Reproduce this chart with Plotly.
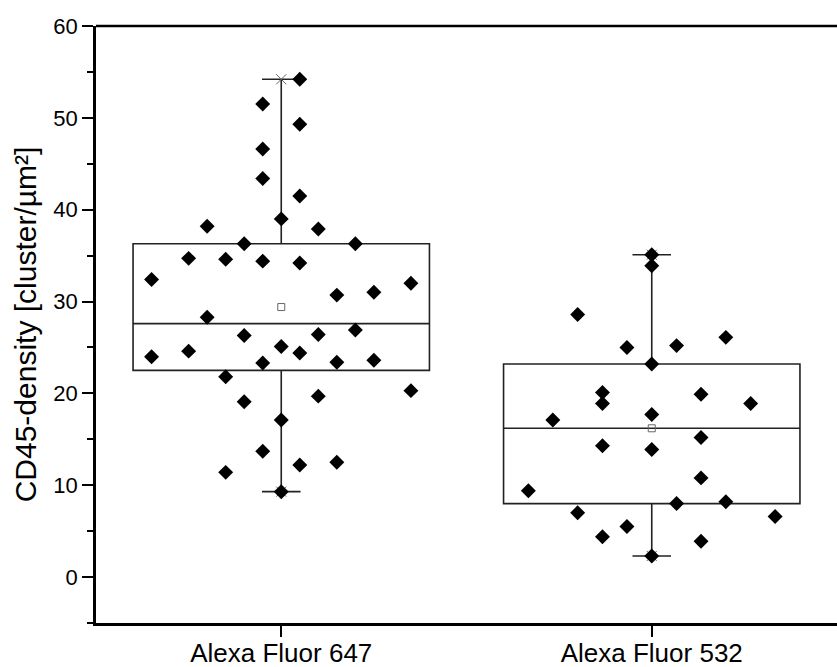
import plotly.graph_objects as go

categories = ["Alexa Fluor 647", "Alexa Fluor 532"]

# Box statistics
q1_vals = [22.5, 8.0]
median_vals = [27.6, 16.2]
q3_vals = [36.3, 23.2]
lower_whisker = [9.3, 2.3]
upper_whisker = [54.2, 35.1]
mean_vals = [29.4, 16.2]

# Individual points (values) and horizontal spread offsets (category units)
values_647 = [54.2, 51.5, 49.3, 46.6, 43.4, 41.5, 39.0, 38.2, 37.9, 36.3,
              36.3, 34.7, 34.6, 34.4, 34.2, 32.4, 32.0, 31.0, 30.7, 28.3,
              26.3, 26.4, 26.9, 24.0, 24.6, 25.1, 24.4, 23.3, 23.4, 23.6,
              21.8, 20.3, 19.1, 19.7, 17.1, 13.7, 12.2, 12.5, 11.4, 9.3]
jitter_647 = [0.05, -0.05, 0.05, -0.05, -0.05, 0.05, 0.0, -0.2, 0.1, -0.1,
              0.2, -0.25, -0.15, -0.05, 0.05, -0.35, 0.35, 0.25, 0.15, -0.2,
              -0.1, 0.1, 0.2, -0.35, -0.25, 0.0, 0.05, -0.05, 0.15, 0.25,
              -0.15, 0.35, -0.1, 0.1, 0.0, -0.05, 0.05, 0.15, -0.15, 0.0]

values_532 = [35.1, 33.9, 28.6, 25.0, 25.2, 26.1, 23.2, 20.1, 18.9, 19.9,
              18.9, 17.1, 17.7, 15.2, 14.3, 13.9, 10.8, 9.4, 8.0, 8.2,
              7.0, 6.6, 5.5, 4.4, 3.9, 2.3]
jitter_532 = [0.0, 0.0, -0.2, -0.067, 0.067, 0.2, 0.0, -0.133, -0.133, 0.133,
              0.267, -0.267, 0.0, 0.133, -0.133, 0.0, 0.133, -0.333, 0.067, 0.2,
              -0.2, 0.333, -0.067, -0.133, 0.133, 0.0]

FONT = "Liberation Sans, Arial, sans-serif"

fig = go.Figure()

for i, cat in enumerate(categories):
    fig.add_trace(go.Box(
        x=[i], q1=[q1_vals[i]], median=[median_vals[i]], q3=[q3_vals[i]],
        lowerfence=[lower_whisker[i]], upperfence=[upper_whisker[i]],
        width=0.8, whiskerwidth=0.13, boxpoints=False,
        fillcolor="rgba(255,255,255,0)",
        line=dict(color="#222222", width=1.6),
        name=cat, showlegend=False, hoverinfo="skip",
    ))

# min / max markers
fig.add_trace(go.Scatter(
    x=[0, 1, 0, 1], y=[upper_whisker[0], upper_whisker[1], lower_whisker[0], lower_whisker[1]],
    mode="markers",
    marker=dict(symbol="x-thin-open", size=10, color="#666666", line=dict(color="#666666", width=1)),
    showlegend=False, hoverinfo="skip",
))

# mean markers
fig.add_trace(go.Scatter(
    x=[0, 1], y=mean_vals, mode="markers",
    marker=dict(symbol="square-open", size=7, color="#666666", line=dict(color="#666666", width=1)),
    showlegend=False, hoverinfo="skip",
))

for i, (vals, jit) in enumerate([(values_647, jitter_647), (values_532, jitter_532)]):
    fig.add_trace(go.Scatter(
        x=[i + j for j in jit], y=vals, mode="markers",
        marker=dict(symbol="diamond", size=11.5, color="black", line=dict(width=0)),
        showlegend=False,
    ))

# top frame line
fig.add_shape(type="line", xref="paper", yref="paper", x0=0, x1=1.01, y0=1, y1=1,
              line=dict(color="black", width=2.5))

fig.update_layout(
    width=837, height=667,
    margin=dict(l=96, r=0, t=26, b=44, autoexpand=False),
    paper_bgcolor="white", plot_bgcolor="white",
    font=dict(family=FONT, color="black"),
    xaxis=dict(
        range=[-0.5, 1.5], tickvals=[0, 1], ticktext=categories,
        showline=True, linecolor="black", linewidth=2.5, mirror=False,
        ticks="outside", ticklen=11, tickwidth=2, tickcolor="black",
        ticklabelstandoff=-6,
        tickfont=dict(size=26, family=FONT, color="black"),
        showgrid=False, zeroline=False, automargin=False,
    ),
    yaxis=dict(
        range=[-5, 60], tickvals=[0, 10, 20, 30, 40, 50, 60],
        showline=True, linecolor="black", linewidth=2.5, mirror=False,
        ticks="outside", ticklen=11, tickwidth=2, tickcolor="black",
        minor=dict(dtick=5, tick0=0, ticks="outside", ticklen=6, tickwidth=2, tickcolor="black"),
        tickfont=dict(size=22, family=FONT, color="black"),
        title=dict(text="CD45-density [cluster/µm²]", font=dict(size=30, family=FONT, color="black"), standoff=8),
        showgrid=False, zeroline=False, automargin=False,
    ),
)

fig.write_html("out.html")
